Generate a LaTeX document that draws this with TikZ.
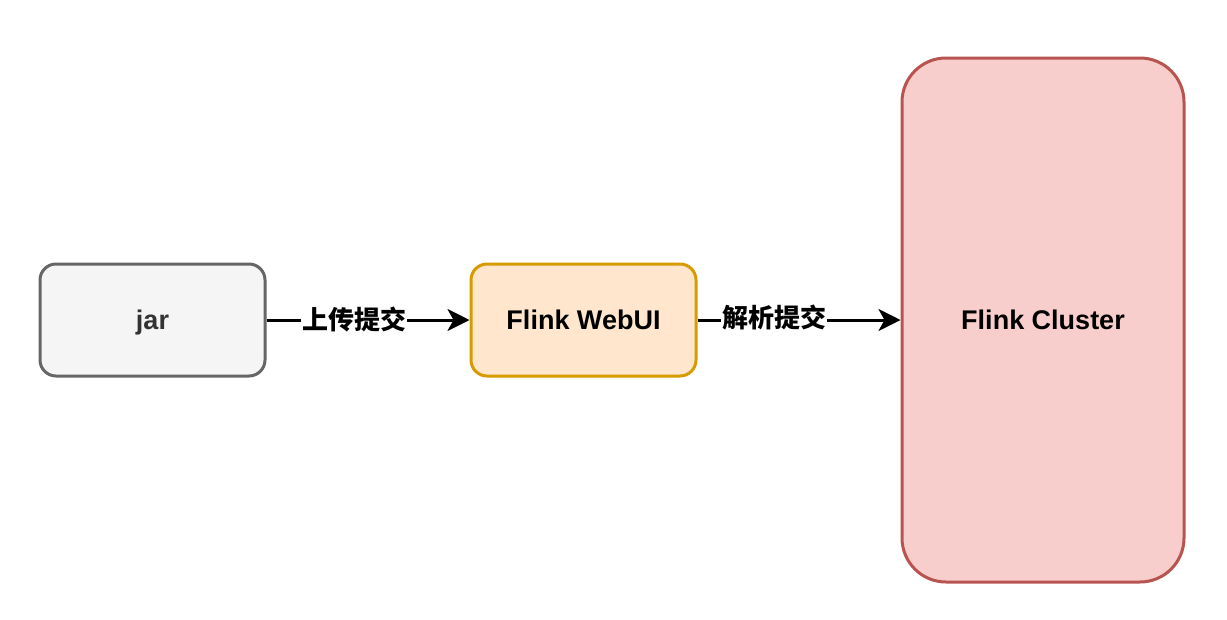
\documentclass[tikz,border=0pt]{standalone}
\usepackage{fontspec}
\setmainfont{Liberation Sans}
\newfontfamily\cjk{Noto Sans CJK SC}
\usetikzlibrary{arrows.meta}
\definecolor{jarfill}{HTML}{F5F5F5}
\definecolor{jarline}{HTML}{666666}
\definecolor{jartext}{HTML}{333333}
\definecolor{webfill}{HTML}{FFE6CC}
\definecolor{webline}{HTML}{D79B00}
\definecolor{clfill}{HTML}{F8CECC}
\definecolor{clline}{HTML}{B85450}
\tikzset{
  box/.style={draw, line width=3pt, rounded corners=16pt, minimum width=225pt, minimum height=112pt, inner sep=0pt, text height=19.7pt, text depth=0pt, font=\fontsize{27}{30}\selectfont\bfseries},
  conn/.style={line width=3pt, -{Stealth[length=22pt,width=22pt,inset=6pt]}},
  lbl/.style={fill=white, inner sep=1pt, font=\cjk\fontsize{26}{28}\selectfont\bfseries}
}
\begin{document}
\begin{tikzpicture}[x=1pt,y=-1pt]
\useasboundingbox (0,0) rectangle (1227,619);
\node[box, fill=jarfill, draw=jarline, text=jartext] (jar) at (152.5,320) {jar};
\node[box, fill=webfill, draw=webline] (web) at (583.5,320) {Flink WebUI};
\node[box, fill=clfill, draw=clline, rounded corners=44pt, minimum width=282pt, minimum height=524pt] (cl) at (1043,320) {Flink Cluster};
\draw[conn] (jar.east) -- (web.west);
\draw[conn] (web.east) -- (cl.west);
\node[lbl] (l1) at (354,319) {上传提交};
\node[lbl] (l2) at (774,317) {解析提交};
\end{tikzpicture}
\end{document}
